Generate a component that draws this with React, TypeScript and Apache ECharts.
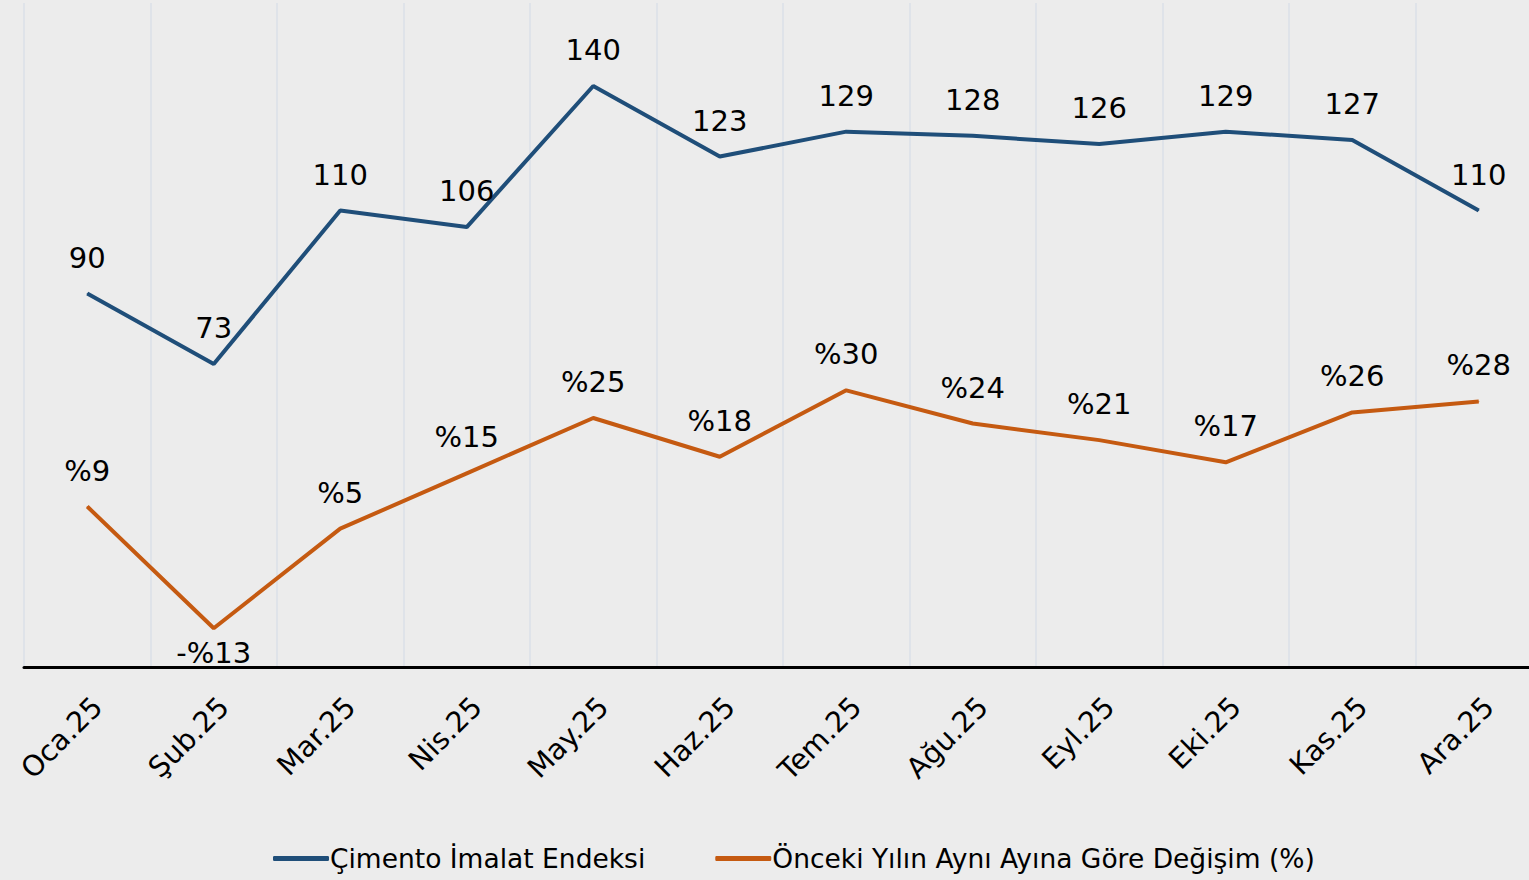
import React, { useEffect, useRef } from "react";
import * as echarts from "echarts";

const categories = ["Oca.25", "Şub.25", "Mar.25", "Nis.25", "May.25", "Haz.25", "Tem.25", "Ağu.25", "Eyl.25", "Eki.25", "Kas.25", "Ara.25"];
const indexValues = [90, 73, 110, 106, 140, 123, 129, 128, 126, 129, 127, 110];
const changeValues = [9, -13, 5, 15, 25, 18, 30, 24, 21, 17, 26, 28];
const seriesNames = ["Çimento İmalat Endeksi", "Önceki Yılın Aynı Ayına Göre Değişim (%)"];

const FONT = "'DejaVu Sans', 'Noto Sans', sans-serif";

export default function App() {
  const ref = useRef<HTMLDivElement>(null);
  useEffect(() => {
    if (!ref.current) return;
    const chart = echarts.init(ref.current, null, { renderer: "svg" });
    chart.setOption({
      animation: false,
      backgroundColor: "#ececec",
      textStyle: { fontFamily: FONT },
      grid: { left: 24, width: 1518, top: 3, bottom: 213, containLabel: false, outerBoundsMode: "none" },
      legend: {
        left: 268,
        bottom: 3,
        icon: "roundRect",
        itemWidth: 56,
        itemHeight: 5,
        itemGap: 70,
        textStyle: { fontSize: 26.5, color: "#000", fontFamily: FONT, padding: [0, 0, 0, -4] },
        data: seriesNames,
      },
      xAxis: {
        type: "category",
        data: categories,
        boundaryGap: true,
        axisLine: { show: true, lineStyle: { color: "#000", width: 3 } },
        axisTick: { show: false },
        axisLabel: {
          rotate: 45,
          fontSize: 28.5,
          color: "#000",
          margin: 25,
          fontFamily: FONT,
          interval: 0,
          align: "right",
          verticalAlign: "top",
        },
        splitLine: { show: true, interval: 0, lineStyle: { color: "#dfe3e9", width: 2 } },
      },
      yAxis: [
        { type: "value", min: 0, max: 160, show: false, splitLine: { show: false } },
        { type: "value", min: -20, max: 100, show: false, splitLine: { show: false } },
      ],
      series: [
        {
          name: seriesNames[0],
          type: "line",
          data: indexValues,
          yAxisIndex: 0,
          showSymbol: true,
          symbol: "circle",
          symbolSize: 1,
          color: "#1f4e79",
          lineStyle: { width: 4, color: "#1f4e79" },
          label: {
            show: true,
            position: "top",
            distance: 21,
            fontSize: 29,
            color: "#000",
            fontFamily: FONT,
          },
        },
        {
          name: seriesNames[1],
          type: "line",
          data: changeValues.map((v) => ({
            value: v,
            label: v < 0 ? { position: "bottom", distance: 10 } : undefined,
          })),
          yAxisIndex: 1,
          showSymbol: true,
          symbol: "circle",
          symbolSize: 1,
          color: "#c55a11",
          lineStyle: { width: 4, color: "#c55a11" },
          label: {
            show: true,
            position: "top",
            distance: 21,
            fontSize: 29,
            color: "#000",
            fontFamily: FONT,
            formatter: (p: any) => (p.value < 0 ? "-%" + Math.abs(p.value) : "%" + p.value),
          },
        },
      ],
    });
    return () => chart.dispose();
  }, []);
  return (
    <div
      ref={ref}
      style={{ position: "absolute", left: 0, top: 0, width: 1529, height: 880 }}
    />
  );
}
